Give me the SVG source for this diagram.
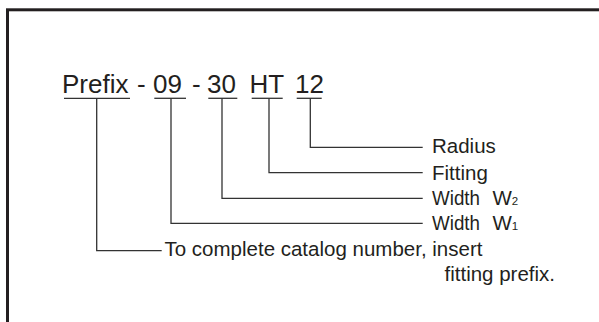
<svg xmlns="http://www.w3.org/2000/svg" width="599" height="322" viewBox="0 0 599 322">
<style>
.t{font-family:"Liberation Sans",Arial,Helvetica,sans-serif;fill:#231f20}
.big{font-size:26px}
.lbl{font-size:20.5px}
.sub{font-size:11.5px}
.ln{stroke:#333;stroke-width:1.3;fill:none}
</style>
<rect x="7.5" y="9.8" width="620" height="340" fill="#fff" stroke="#231f20" stroke-width="3"/>
<g id="code">
<text class="t big" x="62" y="93.3">Prefix</text>
<text class="t big" x="137" y="93.3">-</text>
<text class="t big" x="153" y="93.3">09</text>
<text class="t big" x="192" y="93.3">-</text>
<text class="t big" x="207" y="93.3">30</text>
<text class="t big" x="249.5" y="93.3">HT</text>
<text class="t big" x="295" y="93.3">12</text>
<line class="ln" x1="64" y1="98.3" x2="130" y2="98.3"/>
<line class="ln" x1="154.3" y1="98.3" x2="186" y2="98.3"/>
<line class="ln" x1="208.3" y1="98.3" x2="237.3" y2="98.3"/>
<line class="ln" x1="251.7" y1="98.3" x2="282.7" y2="98.3"/>
<line class="ln" x1="296.7" y1="98.3" x2="321.7" y2="98.3"/>
</g>
<g id="connectors">
<polyline class="ln" points="310.3,98.3 310.3,147.3 422.7,147.3"/>
<polyline class="ln" points="269,98.3 269,172.7 422.7,172.7"/>
<polyline class="ln" points="222,98.3 222,198.3 422.7,198.3"/>
<polyline class="ln" points="171,98.3 171,223.3 422.7,223.3"/>
<polyline class="ln" points="96.7,98.3 96.7,250.7 161.7,250.7"/>
</g>
<g id="radius"><text class="t lbl" x="432" y="153.3">Radius</text></g>
<g id="fitting"><text class="t lbl" x="432" y="179.5">Fitting</text></g>
<g id="width2"><text class="t lbl" x="432" y="205"><tspan textLength="48" lengthAdjust="spacingAndGlyphs">Width</tspan><tspan x="492.5">W</tspan><tspan class="sub">2</tspan></text></g>
<g id="width1"><text class="t lbl" x="432" y="230"><tspan textLength="48" lengthAdjust="spacingAndGlyphs">Width</tspan><tspan x="492.5">W</tspan><tspan class="sub">1</tspan></text></g>
<g id="prefix-note"><text class="t lbl" x="164.5" y="256">To complete catalog number, insert</text>
<text class="t lbl" x="444.5" y="281">fitting prefix.</text></g>
</svg>
